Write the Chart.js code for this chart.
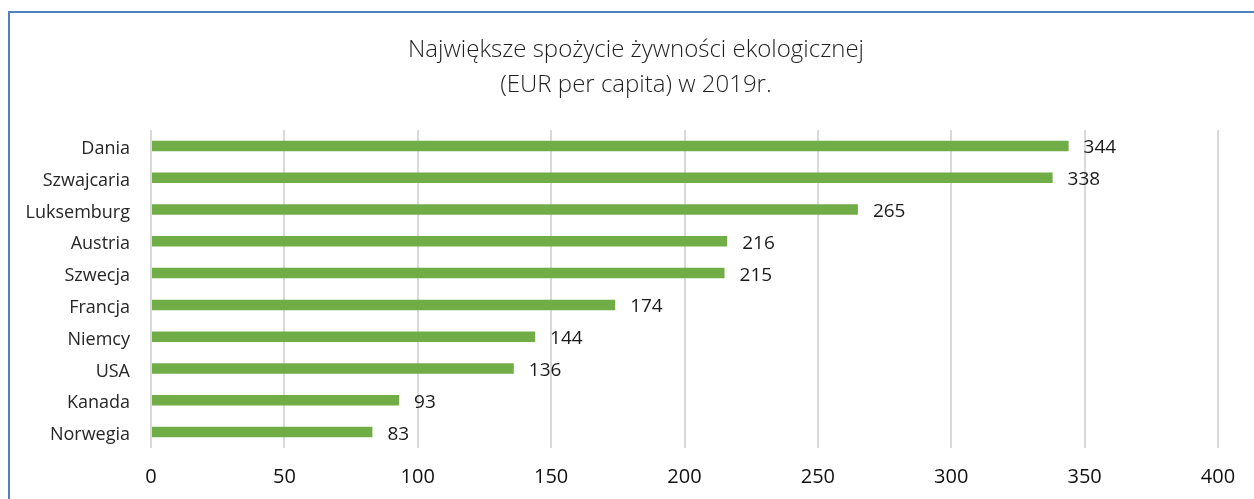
<!DOCTYPE html>
<html>
<head>
<meta charset="utf-8">
<script src="https://cdn.jsdelivr.net/npm/chart.js@4"></script>
<style>
  html, body { margin: 0; padding: 0; width: 1254px; height: 499px; overflow: hidden; background: #fff; }
  #frame { position: absolute; left: 8px; top: 11px; width: 1400px; height: 700px; border: 2px solid #4F81BD; box-sizing: border-box; }
  #wrap { position: absolute; left: 0; top: 0; width: 1254px; height: 499px; }
</style>
</head>
<body>
<div id="frame"></div>
<div id="wrap"><canvas id="c" width="1254" height="499"></canvas></div>
<script>
const categories = ["Dania", "Szwajcaria", "Luksemburg", "Austria", "Szwecja", "Francja", "Niemcy", "USA", "Kanada", "Norwegia"];
const values = [344, 338, 265, 216, 215, 174, 144, 136, 93, 83];
const titleLines = ["Największe spożycie żywności ekologicznej", "(EUR per capita) w 2019r."];

const FONT = "'Open Sans', sans-serif";

const titlePlugin = {
  id: 'customTitle',
  afterDraw(chart) {
    const ctx = chart.ctx;
    ctx.save();
    ctx.font = "300 24px " + FONT;
    ctx.fillStyle = '#1f1f1f';
    ctx.textAlign = 'center';
    ctx.textBaseline = 'middle';
    ctx.fillText(titleLines[0], 636, 50);
    ctx.fillText(titleLines[1], 636, 85);
    ctx.restore();
  }
};

const valueLabels = {
  id: 'valueLabels',
  afterDatasetsDraw(chart) {
    const ctx = chart.ctx;
    const meta = chart.getDatasetMeta(0);
    ctx.save();
    ctx.font = "19px " + FONT;
    ctx.fillStyle = '#1a1a1a';
    ctx.textAlign = 'left';
    ctx.textBaseline = 'middle';
    meta.data.forEach((bar, i) => {
      ctx.fillText(String(values[i]), bar.x + 15, bar.y + 2);
    });
    ctx.restore();
  }
};

new Chart(document.getElementById('c'), {
  type: 'bar',
  data: {
    labels: categories,
    datasets: [{
      data: values,
      backgroundColor: '#70AD47',
      borderWidth: 0,
      barPercentage: 0.33,
      categoryPercentage: 1.0
    }]
  },
  options: {
    indexAxis: 'y',
    responsive: false,
    animation: false,
    devicePixelRatio: 1,
    layout: { padding: { left: 10, right: 36, top: 130, bottom: 10 } },
    plugins: {
      legend: { display: false },
      tooltip: { enabled: false },
      title: { display: false }
    },
    scales: {
      x: {
        min: 0,
        max: 400,
        afterFit(scale) { scale.height = 41; },
        ticks: { stepSize: 50, color: '#111111', font: { family: FONT, size: 20 }, padding: 17 },
        grid: { color: '#d9d9d9', lineWidth: 2, drawTicks: false },
        border: { display: false }
      },
      y: {
        afterFit(scale) { scale.width = 141; },
        ticks: { color: '#262626', font: { family: FONT, size: 18 }, padding: 21, labelOffset: 3 },
        grid: { display: false, drawTicks: false },
        border: { display: false }
      }
    }
  },
  plugins: [valueLabels, titlePlugin]
});
</script>
</body>
</html>
